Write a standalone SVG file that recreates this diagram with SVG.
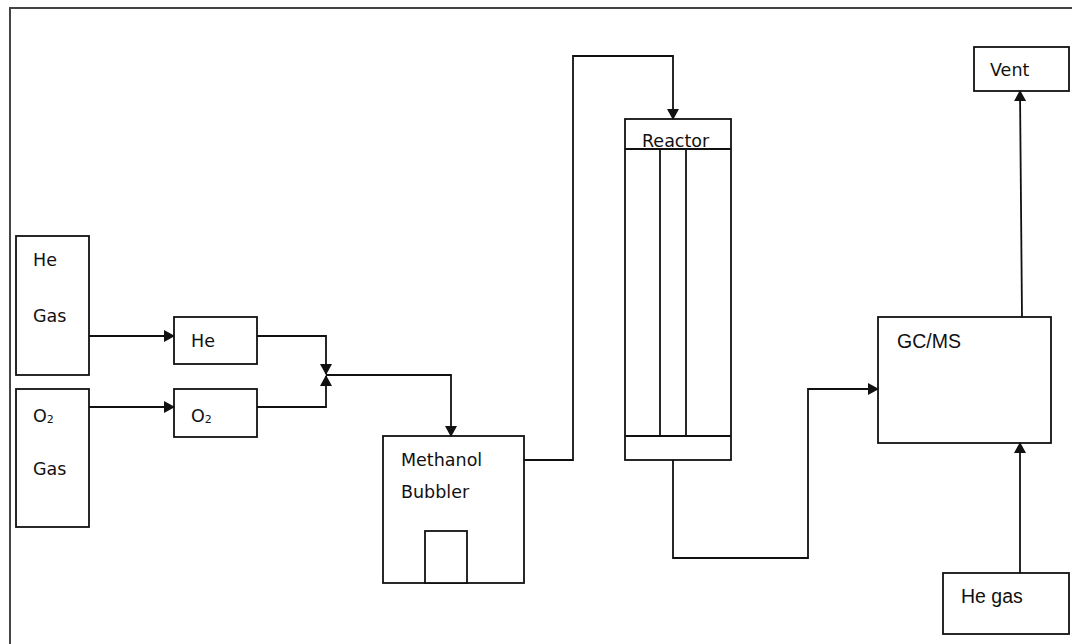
<svg xmlns="http://www.w3.org/2000/svg" width="1072" height="644" viewBox="0 0 1072 644">
<style>
.box{fill:#fff;stroke:#111;stroke-width:1.8}
.ln{fill:none;stroke:#111;stroke-width:1.8}
.t{font-family:"DejaVu Sans",Verdana,sans-serif;font-size:17.5px;fill:#111}
.c{font-family:"Liberation Sans",Arial,sans-serif;font-size:19.5px;fill:#111}
</style>
<defs>
<marker id="ah" markerUnits="userSpaceOnUse" markerWidth="11" markerHeight="12" refX="10" refY="6" orient="auto">
<path d="M0,0 L11,6 L0,12 z" fill="#111"/>
</marker>
</defs>
<rect width="1072" height="644" fill="#fff"/>
<path d="M10,644 V8 H1072" fill="none" stroke="#444" stroke-width="2"/>

<g id="he-gas"><rect class="box" x="16" y="236" width="73" height="139"/><text class="t" x="33" y="266">He</text><text class="t" x="33" y="322">Gas</text></g>
<g id="o2-gas"><rect class="box" x="16" y="389" width="73" height="138"/><text class="t" x="33" y="422" font-size="15.5">O<tspan font-size="11" dy="1">2</tspan></text><text class="t" x="33" y="475">Gas</text></g>
<g id="he"><rect class="box" x="174" y="317" width="83" height="47"/><text class="t" x="191" y="347">He</text></g>
<g id="o2"><rect class="box" x="174" y="389" width="83" height="48"/><text class="t" x="191" y="422" font-size="15.5">O<tspan font-size="11" dy="1">2</tspan></text></g>
<g id="bubbler"><rect class="box" x="383" y="436" width="141" height="147"/><rect class="box" x="425" y="531" width="42" height="52"/><text class="t" x="401" y="466">Methanol</text><text class="t" x="401" y="498">Bubbler</text></g>
<g id="reactor"><rect class="box" x="625" y="119" width="106" height="341"/><path class="ln" d="M625,149 H731 M625,436 H731 M660,149 V436 M686,149 V436"/><text class="t" x="642" y="147">Reactor</text></g>
<g id="gcms"><rect class="box" x="878" y="317" width="173" height="126"/><text class="c" x="897" y="348">GC/MS</text></g>
<g id="vent"><rect class="box" x="974" y="47" width="95" height="44"/><text class="t" x="990" y="76" font-size="19">Vent</text></g>
<g id="he-gas2"><rect class="box" x="943" y="573" width="126" height="61"/><text class="c" x="961" y="603">He gas</text></g>

<g id="connectors">
<path class="ln" d="M89,336 H174" marker-end="url(#ah)"/>
<path class="ln" d="M89,407 H174" marker-end="url(#ah)"/>
<path class="ln" d="M257,336 H326 V374" marker-end="url(#ah)"/>
<path class="ln" d="M257,407 H326 V376" marker-end="url(#ah)"/>
<path class="ln" d="M326,375 H451 V436" marker-end="url(#ah)"/>
<path class="ln" d="M524,460 H573 V56 H673 V119" marker-end="url(#ah)"/>
<path class="ln" d="M673,460 V558 H808 V389 H878" marker-end="url(#ah)"/>
<path class="ln" d="M1022,317 L1020,91" stroke="#666" marker-end="url(#ah)"/>
<path class="ln" d="M1020,573 V443" marker-end="url(#ah)"/>
</g>
</svg>
